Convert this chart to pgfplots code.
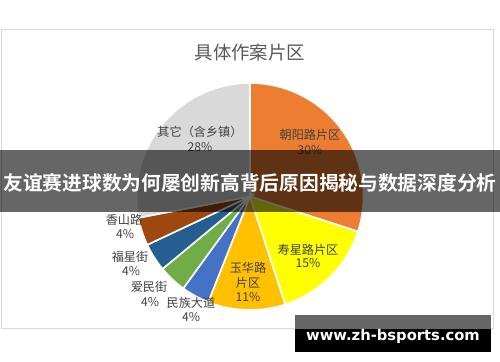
\documentclass[border=0pt]{standalone}
\usepackage{pgfplots}
\pgfplotsset{compat=1.18}
\usepackage{fontspec}
\setmainfont{Noto Sans CJK SC}[BoldFont={Noto Sans CJK SC Bold}]
\newfontfamily\dv{DejaVu Sans}
\definecolor{cA}{HTML}{ED7D31}
\definecolor{cB}{HTML}{FFFF00}
\definecolor{cC}{HTML}{FFC000}
\definecolor{cD}{HTML}{4472C4}
\definecolor{cE}{HTML}{70AD47}
\definecolor{cF}{HTML}{255E91}
\definecolor{cG}{HTML}{9E480E}
\definecolor{cH}{HTML}{D9D9D9}
\definecolor{lbl}{HTML}{404040}
\definecolor{ttl}{HTML}{595959}
\definecolor{frm}{HTML}{D9D9D9}
\definecolor{wmg}{HTML}{666666}
% slice from cumulative percent #1 to cumulative percent #2
\newcommand\slice[3]{\fill[#3, draw=white, line width=1.6bp] (axis cs:250,165.5) -- ++({90-3.6*#1}:113.5bp) arc[start angle={90-3.6*#1}, end angle={90-3.6*#2}, radius=113.5bp] -- cycle;}
\newcommand\lab[3]{\node[lbl, inner sep=0pt, font=\fontsize{12.2}{14}\selectfont] at (axis cs:#1,#2) {#3};}
\begin{document}
\begin{tikzpicture}
\useasboundingbox (0,0) rectangle (500bp,362bp);
\fill[white] (0,0) rectangle (500bp,362bp);
\begin{axis}[at={(0,0)}, anchor=origin, scale only axis, width=500bp, height=362bp,
  xmin=0, xmax=500, ymin=0, ymax=362, hide axis, clip=false]
% chart frame
\draw[frm, line width=1bp] (axis cs:1,332) rectangle (axis cs:493,33);
% title
\node[ttl, inner sep=0pt, font=\fontsize{18.5}{20}\selectfont] at (axis cs:250,310) {具体作案片区};
% pie: 朝阳路片区 30, 寿星路片区 15, 玉华路片区 11, 民族大道 4, 爱民街 4, 福星街 4, 香山路 4, 其它 28
\slice{0}{30}{cA}
\slice{30}{45}{cB}
\slice{45}{56}{cC}
\slice{56}{60}{cD}
\slice{60}{64}{cE}
\slice{64}{68}{cF}
\slice{68}{72}{cG}
\slice{72}{100}{cH}
% labels
\lab{200}{230}{其它（含乡镇）}
\lab{200}{215}{28\%}
\lab{310}{227}{朝阳路片区}
\lab{310}{212}{30\%}
\lab{308}{112}{寿星路片区}
\lab{308}{99}{15\%}
\lab{248}{94}{玉华路}
\lab{248}{79}{片区}
\lab{248}{65}{11\%}
\lab{191}{59}{民族大道}
\lab{191}{45}{4\%}
\lab{149}{75}{爱民街}
\lab{150}{60}{4\%}
\lab{130}{105}{福星街}
\lab{131}{91}{4\%}
\lab{124}{142}{香山路}
\lab{125}{128}{4\%}
% banner
\fill[black, opacity=0.6] (axis cs:0,150) rectangle (axis cs:500,212);
\node[white, inner sep=0pt, font=\fontsize{19.8}{24}\selectfont\bfseries] at (axis cs:250,179) {友谊赛进球数为何屡创新高背后原因揭秘与数据深度分析};
% watermark
\fill[wmg] (axis cs:295,47) rectangle (axis cs:491,33);
\fill[black] (axis cs:295,33) rectangle (axis cs:491,10);
\node[white, inner sep=0pt, font=\dv\bfseries\fontsize{14.8}{16}\selectfont] at (axis cs:393,26) {www.zh-bsports.com};
\end{axis}
\end{tikzpicture}
\end{document}
